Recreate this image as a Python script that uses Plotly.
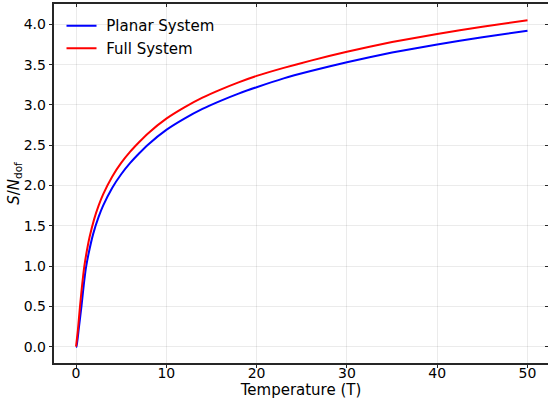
import plotly.graph_objects as go

# Entropy per degree of freedom vs temperature
temp_planar = [0.0, 0.05, 0.3, 0.6, 0.85, 1.1, 1.4, 1.9, 2.5, 3.0, 4.0, 5.0, 6.0, 7.0, 8.0,
               10.0, 12.0, 14.0, 16.0, 18.0, 20.0, 23.0, 26.0, 30.0, 35.0, 40.0, 45.0, 50.0]
s_planar = [0.0, 0.0, 0.22, 0.5, 0.76, 0.98, 1.16, 1.4, 1.61, 1.75, 1.97, 2.14, 2.28, 2.4, 2.51,
            2.69, 2.83, 2.95, 3.05, 3.14, 3.22, 3.33, 3.42, 3.53, 3.65, 3.75, 3.84, 3.92]

temp_full = [0.0, 0.2, 0.44, 0.65, 0.92, 1.2, 1.5, 2.0, 2.5, 3.0, 4.0, 5.0, 6.0, 7.0, 8.0,
             10.0, 12.0, 14.0, 16.0, 18.0, 20.0, 23.0, 26.0, 30.0, 35.0, 40.0, 45.0, 50.0]
s_full = [0.0, 0.2, 0.5, 0.74, 1.0, 1.19, 1.36, 1.58, 1.75, 1.89, 2.11, 2.28, 2.42, 2.54, 2.65,
          2.83, 2.97, 3.09, 3.19, 3.28, 3.36, 3.46, 3.55, 3.66, 3.78, 3.88, 3.97, 4.05]

x_ticks = [0, 10, 20, 30, 40, 50]
y_ticks = [0.0, 0.5, 1.0, 1.5, 2.0, 2.5, 3.0, 3.5, 4.0]
y_tick_text = [f"{v:.1f}" for v in y_ticks]

x_range = [-2.44, 52.27]
y_range = [-0.2025, 4.2525]

font = "DejaVu Sans, Verdana, sans-serif"
spine = "#262626"
grid = "rgba(0,0,0,0.08)"
gap = "\u00a0"

fig = go.Figure()
fig.add_trace(go.Scatter(x=temp_planar, y=s_planar, mode="lines", name=gap + "Planar System",
                         line=dict(color="#0000ff", width=2, shape="spline", smoothing=0.5)))
fig.add_trace(go.Scatter(x=temp_full, y=s_full, mode="lines", name=gap + "Full System",
                         line=dict(color="#ff0000", width=2, shape="spline", smoothing=0.5)))

fig.update_layout(
    width=548, height=403,
    margin=dict(l=54, r=0, t=4, b=40),
    paper_bgcolor="white", plot_bgcolor="white",
    font=dict(family=font, size=14, color="#000000"),
    showlegend=True,
    legend=dict(x=0.0152, y=0.985, xanchor="left", yanchor="top",
                bgcolor="rgba(0,0,0,0)", borderwidth=0,
                font=dict(size=15), tracegroupgap=0),
    xaxis=dict(range=x_range, tickvals=x_ticks, ticks="outside", ticklen=3.5,
               tickwidth=1, tickcolor=spine, showline=True, linecolor=spine, linewidth=1.5,
               ticklabelstandoff=-7,
               showgrid=True, gridcolor=grid, gridwidth=1, zeroline=False,
               title=dict(text="Temperature (T)", font=dict(size=15), standoff=2)),
    yaxis=dict(range=y_range, tickvals=y_ticks, ticktext=y_tick_text, ticks="outside",
               ticklen=3.5, tickwidth=1, tickcolor=spine, showline=True, linecolor=spine,
               linewidth=1.5, showgrid=True, gridcolor=grid, gridwidth=1, zeroline=False,
               title=dict(text="<i>S</i>/<i>N</i><sub>dof</sub>", font=dict(size=15), standoff=0)),
    xaxis2=dict(overlaying="x", side="top", matches="x", range=x_range, tickvals=x_ticks,
                ticks="inside", ticklen=3.5, tickwidth=1, tickcolor=spine, showticklabels=False,
                showline=True, linecolor=spine, linewidth=1.5, showgrid=False, zeroline=False),
    yaxis2=dict(overlaying="y", side="right", matches="y", range=y_range, tickvals=y_ticks,
                ticks="inside", ticklen=3.5, tickwidth=1, tickcolor=spine, showticklabels=False,
                showline=False, showgrid=False, zeroline=False),
)

# invisible anchor trace so the mirrored top/right axes are drawn
fig.add_trace(go.Scatter(x=[0], y=[0], xaxis="x2", yaxis="y2", mode="markers",
                         marker=dict(opacity=0), showlegend=False, hoverinfo="skip"))

fig.write_html("out.html")
